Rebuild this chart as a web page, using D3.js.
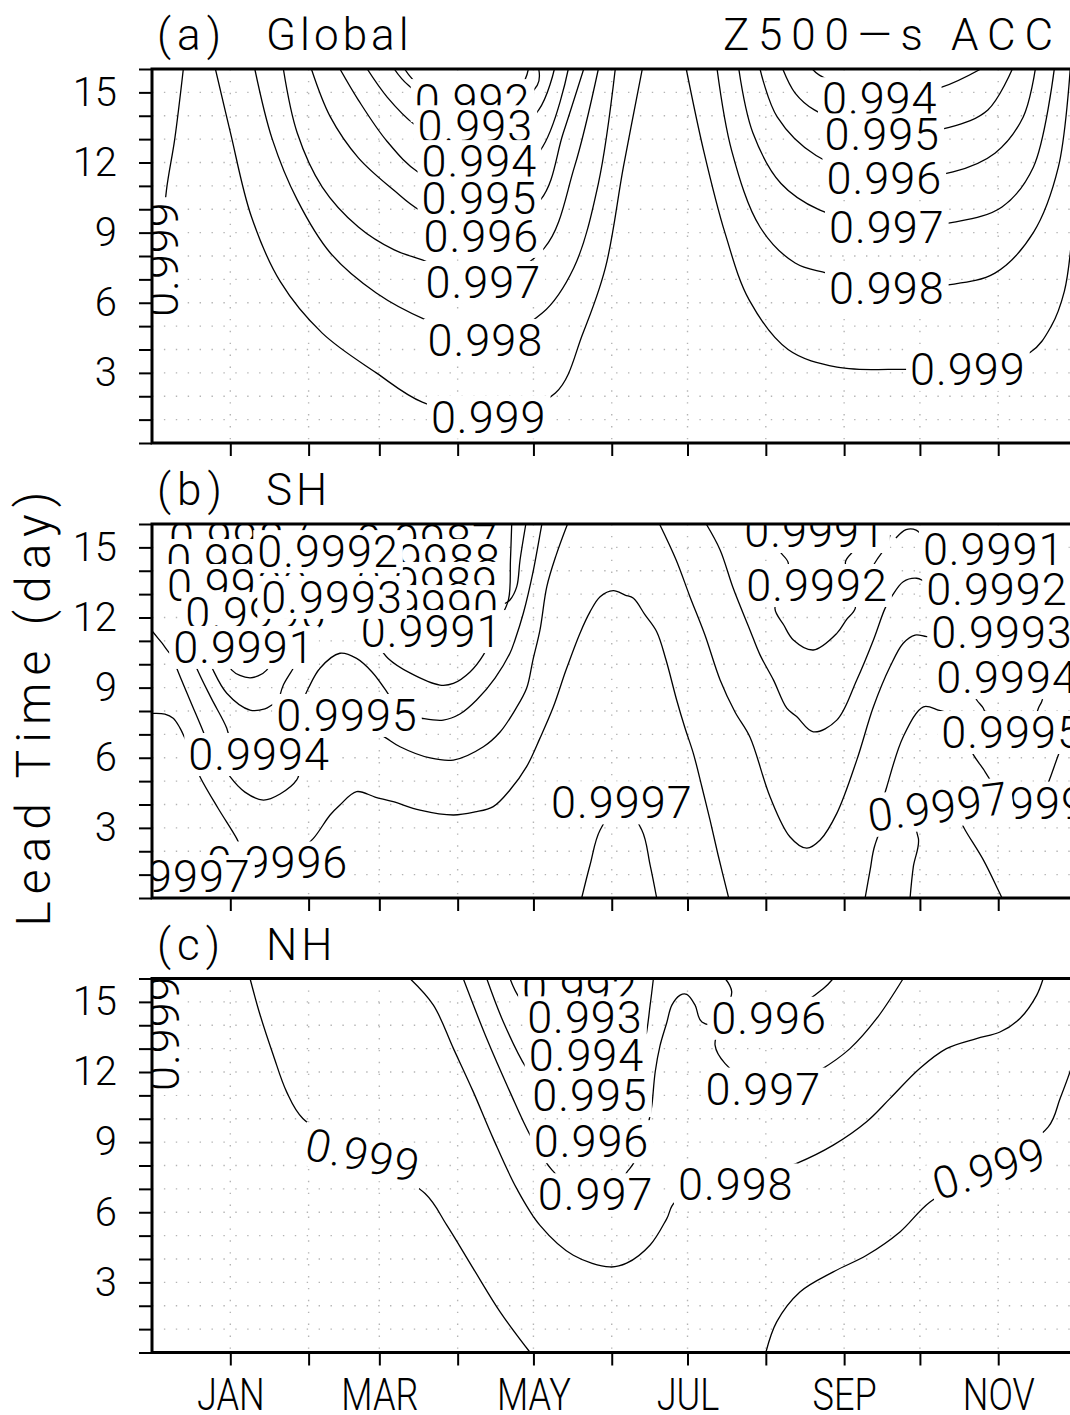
<!DOCTYPE html>
<html>
<head>
<meta charset="utf-8">
<script src="https://cdn.jsdelivr.net/npm/d3@7"></script>
<style>
  body { margin: 0; background: #fff; }
  text { font-family: Roboto, "DejaVu Sans", sans-serif; font-weight: 300; fill: #000; }
</style>
</head>
<body>
<div id="chart"></div>
<script>
// ---- text / ticks ----
const monthNames = ["JAN","FEB","MAR","APR","MAY","JUN","JUL","AUG","SEP","OCT","NOV","DEC"];
const leadTickLabels = [3, 6, 9, 12, 15];
const panelTags = ["(a)", "(b)", "(c)"];
const panelNames = ["Global", "SH", "NH"];
const varTitle = "Z500\u2014s  ACC";
const yTitle = "Lead Time (day)";

// ---- contours: [days after 1 Dec, lead (day)] ----
// (a) Global
const gA999edge = [[12.4,16],[9,13],[5.7,10.8],[3.5,8],[1.5,5.8],[0,5.2]];
const gA992 = [[100,16],[106,15.3],[126.9,14.67],[146,15.3],[149,16]];
const gA993 = [[95.9,16],[101.5,15.3],[128,13.55],[152.5,15.3],[153.1,16]];
const gA994 = [[85.2,16],[93.1,14.8],[104.2,13.6],[129.6,12.06],[153.1,14.25],[159.3,16]];
const gA995 = [[74.4,16],[81.7,14.67],[93.1,12.9],[105.8,11.55],[129.6,10.5],[153.8,12.53],[164.8,16]];
const gA996 = [[63.1,16],[70.6,13.95],[81.7,12.2],[95.9,10.8],[105.8,9.97],[130.4,8.86],[153.8,10.4],[162.8,13.26],[170.9,16]];
const gA997 = [[52,16],[57.5,13.26],[67.4,10.95],[81.7,9.24],[95.9,8.26],[107,7.83],[131.2,6.89],[155.3,8.34],[167.2,11.8],[176.7,16]];
const gA998 = [[40.7,16],[47.6,13.0],[57.5,10.4],[70.6,8.13],[88.8,6.42],[108.6,5.26],[132,4.41],[154.5,5.56],[167,7.5],[176.7,11.1],[183.4,16]];
const gA999 = [[25.1,16],[31,13.3],[39.3,9.7],[50.8,6.9],[67.4,4.7],[88.8,3.0],[107,1.75],[133.3,1.13],[159.7,2.14],[170.6,4.7],[179.5,7.5],[186.6,11.8],[194.1,16]];
const gA994r = [[261.4,16],[264.2,15.74],[288.1,14.75],[312.1,15.2],[328.1,16]];
const gA995r = [[249.7,16],[254.6,14.97],[262.2,14.25],[289.1,13.2],[315.6,13.5],[330.9,14.25],[340.6,16]];
const gA996r = [[240.7,16],[247.5,13.95],[262.9,12.3],[289.9,11.34],[317.1,11.6],[333.7,12.4],[344.9,13.95],[349.7,16]];
const gA997r = [[232.3,16],[237.9,13.26],[249,11.1],[264.2,9.97],[290.9,9.24],[317.6,9.45],[336.5,10.1],[348.9,11.8],[357.2,16]];
const gA998r = [[223.7,16],[229.5,12.5],[240.7,9.24],[254.6,7.7],[267.1,7.27],[290.9,6.65],[314.8,6.76],[333.7,7.27],[348.9,9.0],[358.8,11.8],[363.5,16]];
const gA999r = [[211.5,16],[218.4,12.5],[226.8,9.0],[236.5,6.1],[251.8,4.0],[271.2,3.25],[299,3.15],[323,3.17],[347.6,3.87],[356,5.0],[361.2,6.5],[364,8.6],[366.5,12],[368,16]];
const gLabels = [
  ["0.992",126.9,14.67,0],["0.993",128,13.55,0],["0.994",129.6,12.06,0],["0.994",288.1,14.75,0],
  ["0.995",129.6,10.5,0],["0.995",289.1,13.2,0],["0.996",130.4,8.86,0],["0.996",289.9,11.34,0],
  ["0.997",131.2,6.89,0],["0.997",290.9,9.24,0],["0.998",132,4.41,0],["0.998",290.9,6.65,0],
  ["0.999",133.3,1.13,0],["0.999",323,3.17,0],["0.999",4.1,7.87,-90]
];

// (b) SH
const bS9991a = [[0.3,11.39],[4.0,10.9],[7.8,10.4],[13.1,10.18]];
const bS9991b = [[29.3,10.18],[31.6,9.75],[34.8,9.52],[38.8,9.42],[42.0,9.5],[45.4,9.75],[47.5,10.18]];
const bS9991c = [[89.5,10.82],[93.5,10.25],[102.1,9.63],[114.0,9.11],[119.3,9.18],[125.9,9.67],[131.2,10.4],[136.6,11.68],[141.1,12.75],[141.9,14.46],[142.4,16]];
const bS9991d = [[246.4,15.74],[247.9,14.93],[251.9,14.33],[250.3,13.39],[246.6,12.39],[250.1,11.68],[253.9,11.04],[261.8,10.61],[271.1,11.32],[274.8,11.89],[278.4,12.39],[277.6,13.39],[274.5,14.37],[278.4,14.96],[280.4,15.74]];
const bS9991e = [[294.5,15.4],[298.5,15.76],[302.5,15.74],[306.4,15.32]];
const bS9990 = [[148,16],[145.7,14.46],[144.4,13.32],[141.7,12.75],[139.7,12.6]];
const bS9992 = [[219.4,16],[224.9,14.89],[230.1,13.25],[236.7,11.47],[240.7,10.4],[246.0,9.33],[251.3,8.12],[255.2,7.76],[261.8,7.11],[271.1,7.61],[279.0,9.33],[285.6,11.04],[290.2,12.39],[292.8,12.89],[297.4,13.53],[302.7,13.68],[306.0,13.53],[312.0,13.22]];
const bS9992b = [[285.4,14.2],[286.9,14.46],[290.9,15.1],[292.2,15.53]];
const bS9993 = [[200.9,16],[207.5,14.46],[213.0,12.88],[218.9,11.25],[224.9,9.33],[230.8,7.96],[236.7,6.89],[244.7,4.32],[252.6,2.61],[259.2,2.13],[264.5,2.48],[271.1,3.62],[279.0,5.9],[285.6,8.18],[292.2,9.9],[297.4,10.9],[302.1,11.25],[306.7,11.18],[312.0,11.17]];
const bS9994a = [[0.3,7.9],[5.1,7.87],[8.4,7.69],[11.1,7.27],[13.7,6.69],[15.8,6.33]];
const bS9994b = [[50.7,8.68],[52.0,9.11],[55.9,9.83],[57.4,10.18]];
const bS9994c = [[324.6,8.9],[326.5,8.47],[329.1,8.12],[330.2,7.79]];
const bS9994d = [[353.1,8.73],[352.2,8.4],[350.9,8.12],[350.0,7.79]];
const bS9994e = [[28.9,5.56],[30.9,5.19],[36.8,4.53],[44.1,4.19],[50.7,4.45],[57.3,5.05],[58.6,5.48]];
const bS9995a = [[15.8,10.4],[17.7,9.83],[23.4,8.56],[29.6,7.26],[30.9,6.67]];
const bS9995b = [[21.4,10.4],[23.6,9.88],[29.6,8.76],[38.8,8.04],[44.7,8.09],[48.7,8.33],[52.7,8.38]];
const bS9995c = [[60.2,8.56],[61.9,8.97],[66.5,9.83],[74.4,10.47],[81.0,10.25],[87.1,9.67],[92.9,8.83],[95.0,8.47]];
const bS9995d = [[102.9,7.79],[106.8,7.69],[115.3,7.61],[121.9,7.87],[128.5,8.47],[135.8,9.41],[141.7,10.47],[143.7,11.04],[147.0,12.18],[151.0,14.03],[154.3,15.96],[154.4,16]];
const bS9995e = [[89.5,7.06],[92.9,6.83],[98.2,6.47],[110.1,5.99],[119.3,5.9],[131.2,6.47],[137.8,7.1],[143.7,8.04],[148.3,8.97],[150.8,10.18],[153.6,11.47],[156.3,13.32],[160.0,14.67],[164.5,16]];
const bS9995f = [[323.8,6.42],[325.2,6.12],[329.8,5.4],[331.8,5.05]];
const bS9995g = [[359.9,6.42],[358.8,6.12],[355.5,5.12],[354.3,4.79]];
const bS9995h = [[313.9,7.96],[311.3,8.04],[305.4,8.18],[297.4,6.9],[290.9,4.76],[289.8,4.36]];
const bS9996a = [[7.9,10.4],[9.8,9.83],[15.0,8.47],[20.3,7.11],[21.8,6.67]];
const bS9996b = [[58.6,2.05],[63.9,2.55],[70.5,3.55],[74.4,3.98],[81.0,4.55],[88.3,4.32],[95.5,4.12],[106.1,3.76],[119.3,3.55],[127.9,3.68],[135.1,3.91],[141.7,4.62],[148.3,5.62],[153.6,6.84],[158.9,8.18],[163.9,9.75],[169.4,11.32],[173.4,12.24],[177.4,12.89],[182.6,13.15],[187.3,12.96],[190.6,12.82],[195.2,12.11],[199.8,11.39],[203.5,10.18],[207.7,8.47],[211.0,7.27],[214.3,6.19],[217.7,4.75],[220.9,3.34],[224.1,1.84],[228.3,0]];
const bS9996c = [[319.9,3.34],[321.9,2.91],[329.1,1.63],[335.0,0.34],[336.5,0]];
const bS9996d = [[17.4,5.65],[19.0,5.19],[26.1,3.85],[33.5,2.55],[35.6,2.05]];
const bS9997a = [[170.1,0],[173.4,1.41],[177.4,2.91],[185.7,3.98],[193.9,2.91],[197.2,1.41],[199.8,0]];
const bS9997b = [[282.3,0],[284.3,1.2],[286.2,2.27],[292.2,3.6],[298.1,3.6],[303.4,2.55],[301.4,1.34],[300.1,0]];
const bS9997c = [[0,1.11],[13.1,0.86],[30.9,0.04]];
const bLabels = [
  ["0.9987",34.8,15.4,0],["0.9987",108.9,15.32,0],
  ["0.9988",33.7,14.46,0],["0.9988",110.1,14.46,0],
  ["0.9989",34.0,13.39,0],["0.9989",108.9,13.48,0],
  ["0.9990",41.2,12.19,0],["0.9990",109.3,12.49,0],
  ["0.9991",36.4,10.74,0],["0.9991",110.7,11.42,0],["0.9991",262.5,15.7,0],["0.9991",333.2,14.93,0],
  ["0.9992",69.7,14.84,0],["0.9992",263.3,13.39,0],["0.9992",334.5,13.22,0],
  ["0.9993",71.3,12.88,0],["0.9993",336.5,11.38,0],
  ["0.9994",42.4,6.16,0],["0.9994",338.5,9.45,0],
  ["0.9995",77.2,7.83,0],["0.9995",340.5,7.1,0],
  ["0.9996",49.7,1.52,0],["0.9996",352.4,4.08,0],
  ["0.9997",11.1,0.94,0],["0.9997",186.0,4.09,0],["0.9997",311.2,3.91,-7.5]
];

// (c) NH
const cN999edge = [[10.3,16],[6.3,14.86],[4.0,13.66],[1.6,12.29],[0,11.44]];
const cN999 = [[38.8,16],[42.8,14.44],[48.0,12.73],[53.3,11.15],[59.7,10.01],[83.5,8.44],[108.1,6.8],[116.7,5.45],[127.2,3.59],[137.8,1.74],[149.7,0]];
const cN998 = [[102.1,16],[111.4,14.86],[119.3,13.01],[127.2,11.15],[135.1,9.15],[144.4,7.01],[153.6,5.44],[166.8,4.16],[181.3,3.66],[187.9,3.82],[197.2,4.6],[203.8,5.73],[207.1,6.44],[231.2,7.2],[255.2,8.09],[269.7,8.87],[282.9,9.87],[292.2,10.87],[303.9,12.15],[314.5,13.0],[326.4,13.43],[335.7,13.71],[343.6,14.29],[350.2,15.28],[352.8,16]];
const cN999r = [[243.0,0],[247.3,1.31],[256.5,2.59],[269.7,3.45],[282.9,4.16],[296.1,5.16],[308.0,6.44],[331.4,7.88],[354.8,9.65],[359.5,10.87],[363.4,12.0],[367.4,13.36]];
const cN997 = [[123.2,16],[132.5,13.43],[141.7,11.15],[149.7,9.3],[158.4,7.8],[169.4,6.86],[181.3,6.86],[188.6,7.8],[190.6,8.09],[195.2,9.3],[197.2,10.15],[197.9,10.58],[199.2,12.0],[201.1,13.12],[203.8,14.12],[205.8,14.86],[209.1,15.29],[211.7,15.32],[215.0,14.86],[217.7,14.14],[232.8,14.0],[252.6,14.64],[265.8,15.57],[269.7,16]];
const cN996 = [[132.5,16],[139.1,14.14],[148.3,12.15],[157.6,10.88],[173.4,10.79],[189.2,11.3],[195.2,13.36],[197.2,14.86],[198.5,16]];
const cN995 = [[141.7,16],[145.7,15.14],[155.6,14.2],[171.4,13.86],[187.3,14.63],[190.6,15.41],[188.0,16]];
const cN997m = [[226.9,16],[229.5,15.43],[225.6,14.21],[222.9,13.15],[226.9,12.36],[240.7,11.31],[256.5,11.65],[264.5,12.08],[276.3,13.0],[286.9,14.29],[297.4,16]];
const cLabels = [
  ["0.992",169.4,15.58,0],["0.993",171.4,14.34,0],["0.994",172.0,12.72,0],["0.995",173.4,11.01,0],
  ["0.996",174.0,9.04,0],["0.996",244.3,14.32,0],["0.997",175.6,6.77,0],["0.997",242.0,11.29,0],
  ["0.998",231.1,7.19,0],["0.999",4.4,13.66,-90],["0.999",83.5,8.44,12],["0.999",331.4,7.88,-17]
];

// tables built from the arrays above
const panels = [
  { lines: [gA999edge,gA992,gA993,gA994,gA995,gA996,gA997,gA998,gA999,gA994r,gA995r,gA996r,gA997r,gA998r,gA999r], labels: gLabels },
  { lines: [bS9991a,bS9991b,bS9991c,bS9991d,bS9991e,bS9990,bS9992,bS9992b,bS9993,bS9994a,bS9994b,bS9994c,bS9994d,bS9994e,
            bS9995a,bS9995b,bS9995c,bS9995d,bS9995e,bS9995f,bS9995g,bS9995h,bS9996a,bS9996b,bS9996c,bS9996d,bS9997a,bS9997b,bS9997c], labels: bLabels },
  { lines: [cN999edge,cN999,cN998,cN999r,cN997,cN996,cN995,cN997m], labels: cLabels }
];

// ---- layout ----
var width = 1070, height = 1415;
var plotLeft = 152, plotRight = 1074, panelH = 374;
var panelTops = [69, 524, 978.5];
var labelSize = 45, digitH = 32;

const t0 = Date.UTC(2000, 11, 1);
function toDate(d) { return new Date(t0 + d * 864e5); }

var x = d3.scaleUtc()
  .domain([toDate(0), toDate(365)])
  .range([plotLeft, plotRight]);
var monthTicks = d3.utcMonth.range(new Date(Date.UTC(2001, 0, 1)), new Date(Date.UTC(2001, 11, 1)));

var svg = d3.select('#chart').append('svg')
  .attr('width', width).attr('height', height)
  .style('background', '#fff');

function drawPanel(p, i) {
  var top = panelTops[i];
  var y = d3.scaleLinear().domain([0, 16]).range([top + panelH, top]);

  svg.append('clipPath').attr('id', 'clip' + i)
    .append('rect')
    .attr('x', plotLeft).attr('y', top)
    .attr('width', plotRight - plotLeft).attr('height', panelH);

  var plot = svg.append('g').attr('clip-path', 'url(#clip' + i + ')');

  // dotted grid
  plot.selectAll('.hgrid').data(d3.range(1, 16)).enter()
    .append('line')
    .attr('x1', plotLeft).attr('x2', plotRight)
    .attr('y1', d => y(d)).attr('y2', d => y(d))
    .attr('stroke', '#b4b4b4').attr('stroke-width', 1.4)
    .attr('stroke-dasharray', '1.4 10.5');
  plot.selectAll('.vgrid').data(monthTicks).enter()
    .append('line')
    .attr('x1', d => x(d)).attr('x2', d => x(d))
    .attr('y1', top).attr('y2', top + panelH)
    .attr('stroke', '#b4b4b4').attr('stroke-width', 1.4)
    .attr('stroke-dasharray', '1.4 10.5');

  // contour lines
  var line = d3.line()
    .x(d => x(toDate(d[0])))
    .y(d => y(d[1]))
    .curve(d3.curveCatmullRom.alpha(0.5));
  plot.selectAll('.contour').data(p.lines).enter()
    .append('path')
    .attr('d', line)
    .attr('fill', 'none')
    .attr('stroke', '#000')
    .attr('stroke-width', 1.3);

  // contour labels with white masks (later labels cover earlier ones)
  p.labels.forEach(function(l) {
    var lg = plot.append('g')
      .attr('transform', 'translate(' + x(toDate(l[1])) + ',' + y(l[2]) + ') rotate(' + l[3] + ')');
    var r = lg.append('rect').attr('fill', '#fff');
    var t = lg.append('text')
      .attr('text-anchor', 'middle')
      .attr('y', digitH / 2)
      .style('font-size', labelSize + 'px')
      .style('letter-spacing', '1px')
      .text(l[0]);
    var w = t.node().getComputedTextLength();
    r.attr('x', -w / 2 - 4).attr('y', -digitH / 2 - 5)
      .attr('width', w + 8).attr('height', digitH + 11);
  });

  // axes
  var yAxis = d3.axisLeft(y)
    .tickValues(d3.range(0, 17))
    .tickSize(13).tickPadding(22)
    .tickFormat(d => leadTickLabels.indexOf(d) >= 0 ? d : '');
  var ya = svg.append('g').attr('transform', 'translate(' + plotLeft + ',0)').call(yAxis);
  ya.select('.domain').remove();
  ya.selectAll('line').attr('stroke-width', 2);
  ya.selectAll('text').style('font-size', '40px').attr('font-family', null);

  var xAxis = d3.axisBottom(x)
    .tickValues(monthTicks)
    .tickSize(13).tickPadding(13)
    .tickFormat(d => (i === 2 && d.getUTCMonth() % 2 === 0) ? monthNames[d.getUTCMonth()] : '');
  var xa = svg.append('g').attr('transform', 'translate(0,' + (top + panelH) + ')').call(xAxis);
  xa.select('.domain').remove();
  xa.selectAll('line').attr('stroke-width', 2);
  xa.selectAll('text').style('font-size', '44px').attr('font-family', null)
    .each(function() {
      var n = this.getComputedTextLength();
      if (n > 0) d3.select(this).attr('textLength', n * 0.82).attr('lengthAdjust', 'spacingAndGlyphs');
    });

  // frame
  svg.append('rect')
    .attr('x', plotLeft).attr('y', top)
    .attr('width', plotRight - plotLeft).attr('height', panelH)
    .attr('fill', 'none').attr('stroke', '#000').attr('stroke-width', 3);

  // panel title
  var tt = svg.append('text').attr('y', top - 19).style('font-size', '44px');
  tt.append('tspan').attr('x', 157).style('letter-spacing', '6px').text(panelTags[i]);
  tt.append('tspan').attr('x', 266).style('letter-spacing', '4px').text(panelNames[i]);
}

panels.forEach(drawPanel);

// top-right title
svg.append('text')
  .attr('x', 1053).attr('y', panelTops[0] - 19)
  .attr('text-anchor', 'end')
  .style('font-size', '44px')
  .attr('textLength', 330).attr('lengthAdjust', 'spacing')
  .text(varTitle);

// y axis title
svg.append('text')
  .attr('transform', 'translate(50,709) rotate(-90)')
  .attr('text-anchor', 'middle')
  .style('font-size', '48px')
  .attr('textLength', 435).attr('lengthAdjust', 'spacing')
  .text(yTitle);
</script>
</body>
</html>
